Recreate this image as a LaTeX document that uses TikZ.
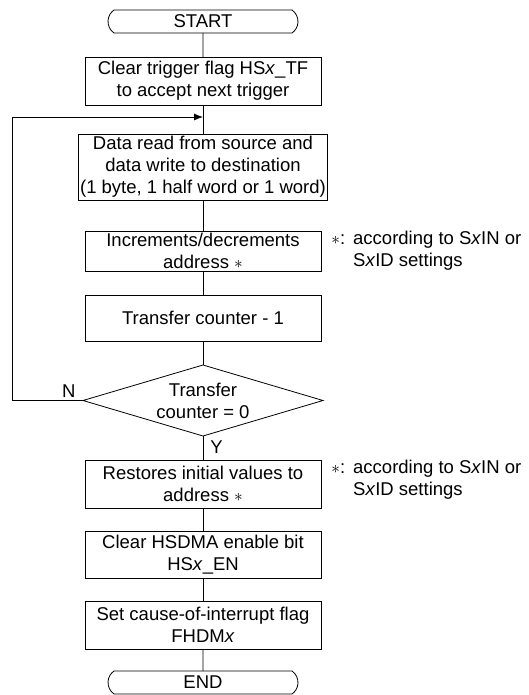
\documentclass[tikz,border=0pt]{standalone}
\usepackage{fontspec}
\setmainfont{Liberation Sans}
\usetikzlibrary{arrows.meta,positioning,shapes.geometric,shapes.misc}

\begin{document}
\begin{tikzpicture}[
  x=1pt, y=-1pt,
  every node/.style={font=\fontsize{18.5}{22}\selectfont},
  term/.style={draw, rounded rectangle, rounded rectangle arc length=110, minimum width=190pt, minimum height=23pt, inner sep=0pt, outer sep=0pt},
  proc/.style={draw, align=center, minimum width=236pt, inner sep=2pt, outer sep=0pt},
  decision/.style={draw, diamond, aspect=3.4, align=center, minimum width=240pt, minimum height=71pt, inner sep=0pt, outer sep=0pt},
  remark/.style={align=left, inner sep=0pt},
  lbl/.style={inner sep=0pt},
  arr/.style={-{Latex[length=9pt,width=7pt]}},
  line width=0.8pt,
  node distance=24pt
]
  \useasboundingbox (0,0) rectangle (529,695);

  \node[term] (start) at (203,21.5) {START};
  \node[proc, minimum height=48pt, below=of start] (clr) {Clear trigger flag HS\textit{x}\_TF\\to accept next trigger};
  \node[proc, minimum height=66pt, below=29pt of clr] (rw) {Data read from source and\\data write to destination\\(1 byte, 1 half word or 1 word)};
  \node[proc, minimum height=40pt, below=31pt of rw] (inc) {Increments/decrements\\address $\ast$};
  \node[proc, minimum height=46pt, below=of inc] (cnt) {Transfer counter - 1};
  \node[decision, below=of cnt] (zero) {Transfer\\counter = 0};
  \node[proc, minimum height=48pt, below=of zero] (rst) {Restores initial values to\\address $\ast$};
  \node[proc, minimum height=47pt, below=23pt of rst] (clren) {Clear HSDMA enable bit\\HS\textit{x}\_EN};
  \node[proc, minimum height=48pt, below=23pt of clren] (flag) {Set cause-of-interrupt flag\\FHDM\textit{x}};
  \node[term, below=22pt of flag] (end) {END};

  % side notes
  \node[remark, anchor=north west] (incnote) at ([xshift=10pt,yshift=2pt]inc.north east)
    {\begin{tabular}{@{}l@{\hspace{8pt}}l@{}}$\ast$: & according to S\textit{x}IN or\\ & S\textit{x}ID settings\end{tabular}};
  \node[remark, anchor=north west] (rstnote) at ([xshift=10pt,yshift=2pt]rst.north east)
    {\begin{tabular}{@{}l@{\hspace{8pt}}l@{}}$\ast$: & according to S\textit{x}IN or\\ & S\textit{x}ID settings\end{tabular}};

  \node[lbl, anchor=south east] (no) at ([xshift=-7pt,yshift=3pt]zero.west) {N};
  \node[lbl, anchor=north west] (yes) at ([xshift=7pt,yshift=-4pt]zero.south) {Y};

  \draw (start) -- (clr);
  \draw (clr) -- (rw);
  \draw (rw) -- (inc);
  \draw (inc) -- (cnt);
  \draw (cnt) -- (zero);
  \draw (zero) -- (rst);
  \draw (rst) -- (clren);
  \draw (clren) -- (flag);
  \draw (flag) -- (end);

  % loop back
  \coordinate (join) at ([yshift=-12pt]clr.south);
  \coordinate (loop) at (12,0);
  \draw[arr] (zero.west) -- (zero.west -| loop) |- (join);
\end{tikzpicture}
\end{document}
